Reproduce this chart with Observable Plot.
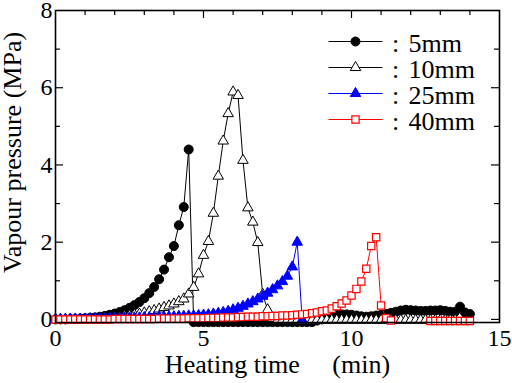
<!DOCTYPE html>
<html><head><meta charset="utf-8">
<script src="https://cdn.jsdelivr.net/npm/d3@7"></script>
<script src="https://cdn.jsdelivr.net/npm/@observablehq/plot@0.6"></script>
<style>
html,body{margin:0;padding:0;background:#fff;}
#chart svg{display:block;font-family:"Liberation Serif","Times New Roman","DejaVu Serif",serif !important;}
#chart svg text{font-family:"Liberation Serif","Times New Roman","DejaVu Serif",serif !important;}
</style>
</head><body><div id="chart"></div>
<script>
// sampling interval of the measurements: 10 s
const sampleStepMin = 10 / 60;
const seriesNames = ["5mm", "10mm", "25mm", "40mm"];

// Vapour pressure (MPa) for each specimen thickness, one value per 10 s sample
const p5mm = [
  0.00,0.00,0.00,0.01,0.01,0.02,0.03,0.04,0.05,0.07,
  0.09,0.12,0.15,0.19,0.24,0.30,0.37,0.45,0.55,0.68,
  0.84,1.04,1.29,1.61,1.90,2.44,2.91,4.40,
  -0.07,-0.07,-0.07,-0.07,-0.07,-0.07,-0.07,-0.07,-0.07,-0.07,
  -0.07,-0.07,-0.07,-0.07,-0.07,-0.07,-0.07,-0.07,-0.07,-0.07,
  -0.07,-0.07,-0.07,-0.07,-0.07,
  -0.03,0.00,0.04,0.08,0.12,0.13,0.13,0.12,0.10,0.08,
  0.07,0.08,0.10,0.12,0.14,0.17,0.20,0.23,0.25,0.24,
  0.23,0.22,0.22,0.23,0.23,0.24,0.22,0.20,0.20,0.33,
  0.18,0.14
];
const p10mm = [
  0.00,0.00,0.00,0.00,0.00,0.00,0.01,0.01,0.01,0.02,
  0.02,0.03,0.05,0.06,0.08,0.10,0.12,0.14,0.17,0.20,
  0.23,0.27,0.31,0.35,0.40,0.46,0.53,0.66,0.83,1.18,
  1.66,2.02,2.75,3.71,4.62,5.33,5.89,5.80,4.12,2.89,
  2.52,1.99,0.65,0.25,0.02,
  -0.02,-0.02,-0.02,-0.02,-0.02,-0.02,-0.02,-0.02,-0.02,-0.02,
  -0.02,-0.02,-0.02,-0.02,-0.02,-0.02,-0.02,-0.02,-0.02,-0.02,
  -0.02,-0.02,-0.02,-0.02,-0.02,-0.02,-0.02,-0.02,-0.02,-0.02,
  -0.02,-0.02,-0.02,-0.02,-0.02,-0.02,-0.02
];
const p25mm = [
  0.00,0.00,0.00,0.01,0.01,0.01,0.01,0.02,0.02,0.02,
  0.02,0.03,0.03,0.03,0.03,0.04,0.04,0.04,0.05,0.05,
  0.05,0.06,0.06,0.07,0.07,0.08,0.08,0.09,0.09,0.10,
  0.11,0.12,0.14,0.16,0.18,0.21,0.25,0.29,0.34,0.40,
  0.46,0.53,0.60,0.68,0.77,0.87,0.98,1.12,1.36,2.00,
  -0.01
];
const p40mm = [
  0.00,0.00,0.00,0.00,0.00,0.00,0.00,0.00,0.00,0.00,
  0.00,0.00,0.01,0.01,0.01,0.01,0.01,0.01,0.01,0.01,
  0.01,0.02,0.02,0.02,0.02,0.02,0.02,0.03,0.03,0.03,
  0.03,0.04,0.04,0.04,0.05,0.05,0.05,0.06,0.06,0.07,
  0.07,0.07,0.08,0.08,0.09,0.09,0.10,0.10,0.11,0.12,
  0.13,0.14,0.16,0.18,0.21,0.23,0.28,0.34,0.41,0.49,
  0.62,0.79,0.98,1.31,1.90,2.13,0.36,0.03,-0.03,
  null,null,null,null,null,null,null,
  -0.04,-0.04,-0.04,-0.04,-0.04,-0.04,-0.04,-0.04,-0.04
];
const seriesValues = [p5mm, p10mm, p25mm, p40mm];

const xTickLabels = [0, 5, 10, 15];
const yTickLabels = [0, 2, 4, 6, 8];
const xMinorTicks = [1, 2, 3, 4, 6, 7, 8, 9, 11, 12, 13, 14];
const xMajorTicks = [5, 10];
const yMinorTicks = [1, 3, 5, 7];
const yMajorTicks = [0, 2, 4, 6];
const xTitle = "Heating time\u00a0\u00a0\u00a0\u00a0\u00a0(min)";
const yTitle = "Vapour pressure (MPa)";

// ---- layout ----
const FONT = "'Liberation Serif', 'Times New Roman', 'DejaVu Serif', serif";
const W = 512, H = 383;
const mL = 55, mR = 13, mT = 10, mB = 61;
const fw = W - mL - mR, fh = H - mT - mB;
const xDomain = [0, 15], yDomain = [-0.08, 8];
const px2x = px => xDomain[0] + (px - mL) / fw * (xDomain[1] - xDomain[0]);
const py2y = py => yDomain[1] - (py - mT) / fh * (yDomain[1] - yDomain[0]);

const styles = [
  {stroke: "black", symbol: "circle",   r: 4.5, fill: "black", dotStroke: "black", sw: 1},
  {stroke: "black", symbol: "triangle", r: 3.9, fill: "white", dotStroke: "black", sw: 1},
  {stroke: "blue",  symbol: "triangle", r: 3.9, fill: "blue",  dotStroke: "blue",  sw: 1},
  {stroke: "red",   symbol: "square",   r: 4.1, fill: "white", dotStroke: "red",   sw: 1.2}
];

const rows = seriesValues.map(vals => vals.map((v, i) => ({t: i * sampleStepMin, v})));

const marks = [];
const minorLen = 5, majorLen = 8;
marks.push(
  Plot.tickX(xMinorTicks, {x: d => d, insetTop: fh - minorLen, stroke: "black", strokeWidth: 1.2}),
  Plot.tickX(xMajorTicks, {x: d => d, insetTop: fh - majorLen, stroke: "black", strokeWidth: 1.2}),
  Plot.tickX(xMinorTicks, {x: d => d, insetBottom: fh - minorLen, stroke: "black", strokeWidth: 1.2}),
  Plot.tickX(xMajorTicks, {x: d => d, insetBottom: fh - majorLen, stroke: "black", strokeWidth: 1.2}),
  Plot.tickY(yMinorTicks, {y: d => d, insetRight: fw - minorLen, stroke: "black", strokeWidth: 1.2}),
  Plot.tickY(yMajorTicks, {y: d => d, insetRight: fw - majorLen, stroke: "black", strokeWidth: 1.2}),
  Plot.tickY(yMinorTicks, {y: d => d, insetLeft: fw - minorLen, stroke: "black", strokeWidth: 1.2}),
  Plot.tickY(yMajorTicks, {y: d => d, insetLeft: fw - majorLen, stroke: "black", strokeWidth: 1.2}),
  Plot.axisX(xTickLabels, {tickSize: 0, tickPadding: 6, label: null, fontSize: 24, fontFamily: FONT}),
  Plot.axisY(yTickLabels, {tickSize: 0, tickPadding: 3, label: null, fontSize: 24, fontFamily: FONT})
);

rows.forEach((data, k) => {
  const s = styles[k];
  marks.push(
    Plot.line(data, {x: "t", y: "v", stroke: s.stroke, strokeWidth: 1}),
    Plot.dot(data, {x: "t", y: "v", symbol: s.symbol, r: s.r, fill: s.fill, stroke: s.dotStroke, strokeWidth: s.sw})
  );
});

const legX1 = px2x(328), legX2 = px2x(382), legXm = px2x(355), legColon = px2x(395), legText = px2x(408);
seriesNames.forEach((name, k) => {
  const s = styles[k];
  const y = py2y(41 + k * 26);
  marks.push(
    Plot.link([0], {x1: legX1, x2: legX2, y1: y, y2: y, stroke: s.stroke, strokeWidth: 1}),
    Plot.dot([0], {x: legXm, y: y, symbol: s.symbol, r: s.r, fill: s.fill, stroke: s.dotStroke, strokeWidth: s.sw}),
    Plot.text([":"], {x: legColon, y: y, text: d => d, fontSize: 26, fontFamily: FONT, dy: 2}),
    Plot.text([name], {x: legText, y: y, text: d => d, textAnchor: "start", fontSize: 26, fontFamily: FONT, dy: 2.4})
  );
});

marks.push(
  Plot.frame({stroke: "black", strokeWidth: 1.6}),
  Plot.text([xTitle], {frameAnchor: "bottom", text: d => d, textAnchor: "middle", dy: 50, fontSize: 26, fontFamily: FONT}),
  Plot.text([yTitle], {frameAnchor: "left", text: d => d, textAnchor: "middle", lineAnchor: "middle", rotate: -90, dx: -43, dy: -14, fontSize: 26, fontFamily: FONT})
);

const chart = Plot.plot({
  width: W, height: H,
  marginLeft: mL, marginRight: mR, marginTop: mT, marginBottom: mB,
  x: {domain: xDomain},
  y: {domain: yDomain},
  style: {fontFamily: FONT, fontSize: "24px", background: "white", color: "black", overflow: "visible"},
  marks
});
document.getElementById("chart").append(chart);
</script>
</body></html>
